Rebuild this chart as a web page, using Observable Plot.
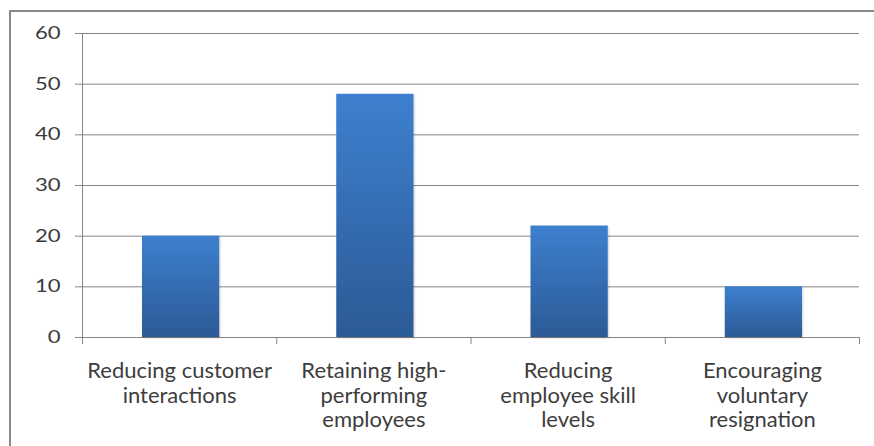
<!DOCTYPE html>
<html><head><meta charset="utf-8">
<script src="https://cdn.jsdelivr.net/npm/d3@7"></script>
<script src="https://cdn.jsdelivr.net/npm/@observablehq/plot@0.6"></script>
<style>
body{margin:0;background:#fff;}
#wrap{position:relative;width:874px;height:446px;overflow:hidden;}
#border{position:absolute;left:9px;top:10px;width:900px;height:500px;border-left:2px solid #888;border-top:2px solid #888;pointer-events:none;}
</style></head><body><div id="wrap"><div id="border"></div></div>
<script>
const categories = ["Reducing customer interactions", "Retaining high-performing employees", "Reducing employee skill levels", "Encouraging voluntary resignation"];
const labels = ["Reducing customer\ninteractions", "Retaining high-\nperforming\nemployees", "Reducing\nemployee skill\nlevels", "Encouraging\nvoluntary\nresignation"];
const values = [20, 48, 22, 10];
const yTicks = [0, 10, 20, 30, 40, 50, 60];

const data = categories.map((c, i) => ({i, category: c, label: labels[i], value: values[i]}));

const chart = Plot.plot({
  width: 874, height: 446,
  marginLeft: 82, marginRight: 15, marginTop: 33, marginBottom: 109,
  style: {fontFamily: "Lato", color: "#404040", background: "transparent"},
  x: {domain: [0, categories.length], axis: null, label: null},
  y: {domain: [0, 60], axis: null, label: null},
  marks: [
    Plot.ruleY(yTicks, {stroke: "#868686", strokeWidth: 1}),
    Plot.axisY(yTicks, {tickSize: 7, tickPadding: 15, stroke: "#868686", fontSize: 17, fill: "#3a3a3a", tickFormat: d => String(d), label: null}),
    Plot.ruleX([0], {stroke: "#868686"}),
    Plot.axisX(d3.range(categories.length + 1), {tickSize: 7, tickFormat: () => "", stroke: "#868686", label: null}),
    Plot.rectY(data, {x1: "i", x2: d => d.i + 1, y: "value", insetLeft: 60, insetRight: 57, fill: "url(#barGrad)"}),
    Plot.text(data, {x: d => d.i + 0.5, y: () => 0, text: "label", lineAnchor: "top", dy: 22.5, fontSize: 22, lineHeight: 1.13, fill: "#3d3d3d"})
  ]
});

const ns = "http://www.w3.org/2000/svg";
const defs = document.createElementNS(ns, "defs");
defs.innerHTML = `<linearGradient id="barGrad" x1="0" y1="0" x2="0" y2="1">
  <stop offset="0" stop-color="#3D80CF"/><stop offset="1" stop-color="#2C5A96"/></linearGradient>
  <filter id="sh" x="-10%" y="-10%" width="130%" height="120%"><feDropShadow dx="1" dy="1" stdDeviation="1.2" flood-color="#000" flood-opacity="0.18"/></filter>`;
chart.insertBefore(defs, chart.firstChild);
chart.querySelectorAll('g[aria-label="rect"]').forEach(g => g.setAttribute("filter", "url(#sh)"));
// widen the y tick labels horizontally, as in the reference
chart.querySelectorAll('g[aria-label="y-axis tick label"] text').forEach(t => {
  const tr = t.getAttribute("transform") || "";
  t.setAttribute("transform", tr + " scale(1.3,1)");
});
chart.style.position = "absolute";
chart.style.left = "0";
chart.style.top = "0";
document.getElementById("wrap").appendChild(chart);
</script></body></html>
